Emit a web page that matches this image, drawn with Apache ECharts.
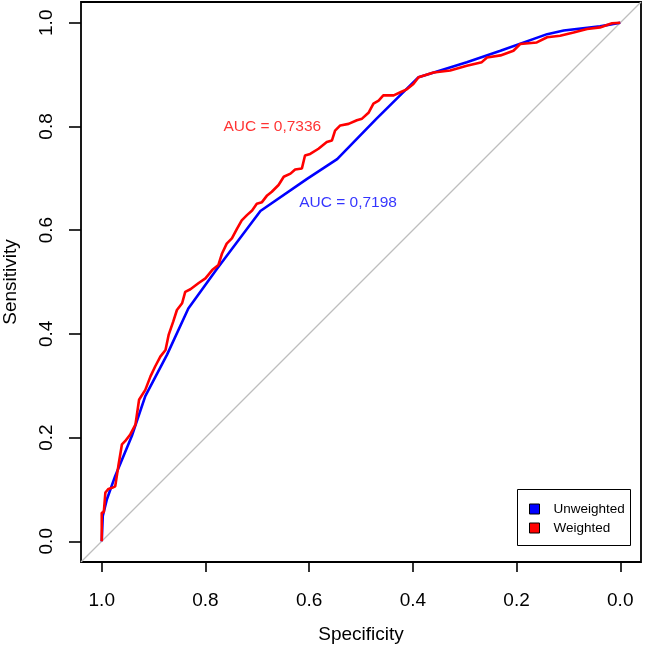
<!DOCTYPE html>
<html>
<head>
<meta charset="utf-8">
<script src="https://cdn.jsdelivr.net/npm/echarts@6/dist/echarts.min.js"></script>
<style>html,body{margin:0;padding:0;background:#fff;}#c{width:645px;height:649px;}</style>
</head>
<body>
<div id="c"></div>
<script>
// Tick values
const tickValues = [0, 0.2, 0.4, 0.6, 0.8, 1.0];

// Unweighted ROC (specificity, sensitivity)
const unwSpec = [1.0, 0.998, 0.99, 0.974, 0.942, 0.916, 0.874, 0.833, 0.778, 0.694, 0.604, 0.546, 0.47, 0.389, 0.296, 0.231, 0.141, 0.109, 0.039, 0.0];
const unwSens = [0.0, 0.049, 0.081, 0.126, 0.203, 0.28, 0.36, 0.449, 0.525, 0.637, 0.699, 0.737, 0.815, 0.895, 0.924, 0.946, 0.978, 0.985, 0.993, 1.0];

// Weighted ROC (specificity, sensitivity)
const wSpec = [1.0, 1.0, 0.996, 0.993, 0.987, 0.980, 0.974, 0.968, 0.961, 0.955, 0.945, 0.935, 0.928, 0.916, 0.906, 0.897, 0.887, 0.877, 0.871, 0.862, 0.855, 0.845, 0.839, 0.829, 0.813, 0.800, 0.787, 0.775, 0.768, 0.759, 0.749, 0.739, 0.730, 0.720, 0.710, 0.701, 0.691, 0.681, 0.672, 0.659, 0.649, 0.636, 0.627, 0.614, 0.608, 0.598, 0.582, 0.566, 0.556, 0.550, 0.540, 0.524, 0.508, 0.498, 0.485, 0.476, 0.466, 0.457, 0.437, 0.424, 0.411, 0.399, 0.389, 0.360, 0.328, 0.296, 0.267, 0.257, 0.231, 0.206, 0.193, 0.161, 0.141, 0.116, 0.090, 0.064, 0.039, 0.016, 0.0];
const wSens = [0.0, 0.055, 0.056, 0.094, 0.101, 0.103, 0.106, 0.145, 0.187, 0.193, 0.206, 0.225, 0.273, 0.292, 0.318, 0.337, 0.356, 0.369, 0.398, 0.424, 0.446, 0.459, 0.481, 0.486, 0.498, 0.507, 0.523, 0.533, 0.555, 0.574, 0.584, 0.603, 0.619, 0.629, 0.638, 0.651, 0.654, 0.667, 0.674, 0.687, 0.703, 0.709, 0.717, 0.719, 0.744, 0.747, 0.757, 0.770, 0.773, 0.792, 0.802, 0.805, 0.812, 0.815, 0.827, 0.844, 0.850, 0.860, 0.860, 0.866, 0.872, 0.882, 0.895, 0.904, 0.908, 0.917, 0.924, 0.933, 0.937, 0.946, 0.959, 0.962, 0.972, 0.975, 0.981, 0.988, 0.991, 0.999, 1.0];

// Reference diagonal
const diagSpec = [1.04, -0.04];
const diagSens = [-0.04, 1.04];

// AUC annotations
const aucTexts = ['AUC = 0,7336', 'AUC = 0,7198'];
const aucSpec = [0.671, 0.525];
const aucSens = [0.80, 0.652];

const seriesNames = ['Unweighted', 'Weighted'];

const zip = (a, b) => a.map((v, i) => [v, b[i]]);
const FONT = "'Liberation Sans', Arial, sans-serif";

const chart = echarts.init(document.getElementById('c'), null, {renderer: 'canvas'});
chart.setOption({
  animation: false,
  backgroundColor: '#fff',
  textStyle: {fontFamily: FONT, color: '#000'},
  grid: {left: 81, top: 2, width: 560, height: 560, show: true, containLabel: false, outerBoundsMode: 'none',
         borderColor: '#000', borderWidth: 1.8, backgroundColor: 'transparent'},
  xAxis: {
    type: 'value', inverse: true, min: -0.04, max: 1.04, position: 'bottom',
    splitLine: {show: false},
    axisLine: {show: false, onZero: false},
    axisTick: {show: true, customValues: tickValues, length: 10, lineStyle: {color: '#000', width: 1.6}},
    axisLabel: {show: true, customValues: tickValues, formatter: v => v.toFixed(1), fontSize: 19, color: '#000', margin: 29, fontFamily: FONT},
    name: 'Specificity', nameLocation: 'middle', nameGap: 63,
    nameTextStyle: {fontSize: 19, color: '#000', fontFamily: FONT}
  },
  yAxis: {
    type: 'value', min: -0.04, max: 1.04, position: 'left',
    splitLine: {show: false},
    axisLine: {show: false, onZero: false},
    axisTick: {show: true, customValues: tickValues, length: 12, lineStyle: {color: '#000', width: 1.6}},
    axisLabel: {show: true, customValues: tickValues, formatter: v => v.toFixed(1), fontSize: 19, color: '#000', margin: 25, rotate: 90, fontFamily: FONT},
    name: 'Sensitivity', nameLocation: 'middle', nameGap: 61,
    nameTextStyle: {fontSize: 19, color: '#000', fontFamily: FONT}
  },
  legend: {
    data: seriesNames,
    orient: 'vertical',
    left: 529, top: 502,
    padding: 0,
    itemGap: 5,
    itemWidth: 10, itemHeight: 10,
    icon: 'rect',
    itemStyle: {borderColor: '#000', borderWidth: 1},
    textStyle: {fontSize: 13.5, lineHeight: 14, color: '#000', fontFamily: FONT, padding: [0, 0, 0, 9]},
    selectedMode: false,
    z: 10
  },
  graphic: [{
    type: 'rect', shape: {x: 517.5, y: 489.5, width: 113, height: 56},
    style: {fill: '#fff', stroke: '#000', lineWidth: 1}, z: 3
  }],
  series: [
    {
      type: 'line', name: 'diag', data: zip(diagSpec, diagSens),
      symbol: 'none', silent: true, lineStyle: {color: '#bebebe', width: 1.2}, z: 1
    },
    {
      type: 'line', name: seriesNames[0], data: zip(unwSpec, unwSens),
      symbol: 'none', color: '#0000ff', lineStyle: {color: '#0000ff', width: 2.6}, z: 2
    },
    {
      type: 'line', name: seriesNames[1], data: zip(wSpec, wSens),
      symbol: 'none', color: '#ff0000', lineStyle: {color: '#ff0000', width: 2.6}, z: 2
    },
    {
      type: 'scatter', name: 'auc', symbolSize: 0, silent: true,
      data: aucTexts.map((t, i) => ({
        value: [aucSpec[i], aucSens[i]],
        label: {show: true, position: 'inside', formatter: t, fontSize: 15.5, fontFamily: FONT, color: i === 0 ? '#ff0000' : '#0000ff'}
      })),
      z: 2
    }
  ]
});
</script>
</body>
</html>
